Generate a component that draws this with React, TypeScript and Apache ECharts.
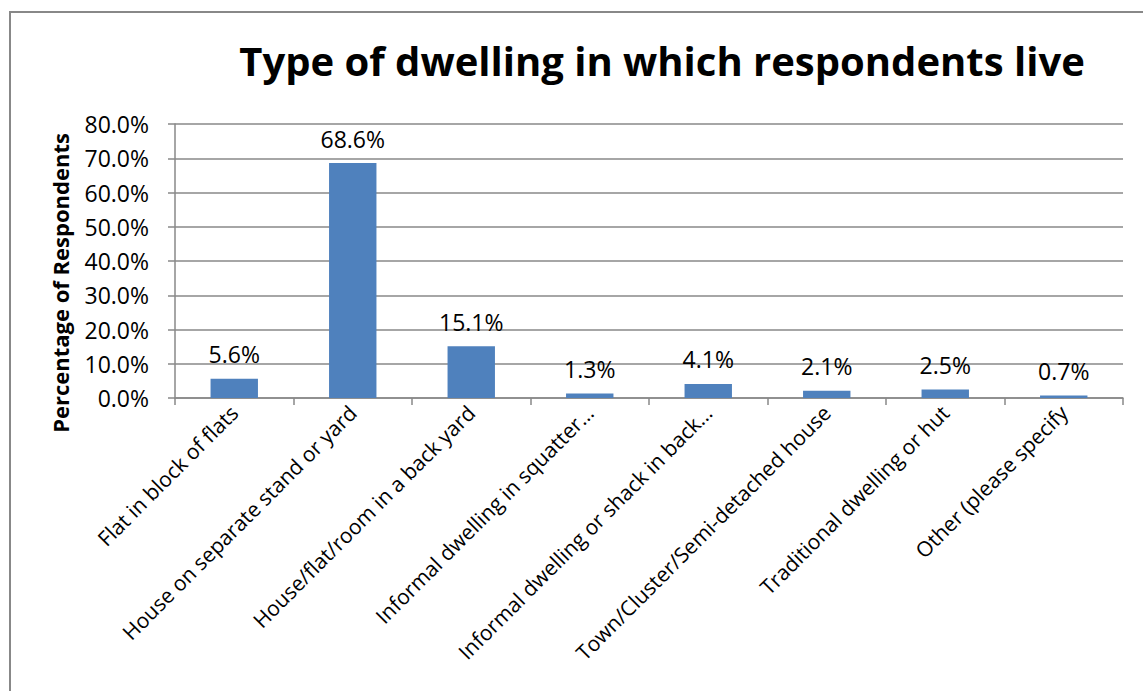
import React, { useEffect, useRef } from "react";
import * as echarts from "echarts";

const categories: string[] = [
  "Flat in block of flats",
  "House on separate stand or yard",
  "House/flat/room in a back yard",
  "Informal dwelling in squatter…",
  "Informal dwelling or shack in back…",
  "Town/Cluster/Semi-detached house",
  "Traditional dwelling or hut",
  "Other (please specify",
];

const percentages: number[] = [5.6, 68.6, 15.1, 1.3, 4.1, 2.1, 2.5, 0.7];

const titleText = "Type of dwelling in which respondents live";
const yAxisTitle = "Percentage of Respondents";

const FONT = "'Open Sans', 'Noto Sans', sans-serif";
const GRAY = "#888888";
const BAR = "#4F81BD";

export default function App() {
  const ref = useRef<HTMLDivElement>(null);

  useEffect(() => {
    if (!ref.current) return;
    const chart = echarts.init(ref.current, undefined, { renderer: "svg" });
    chart.setOption({
      animation: false,
      backgroundColor: "#ffffff",
      textStyle: { fontFamily: FONT },
      graphic: [
        {
          type: "rect",
          shape: { x: 10, y: 12, width: 1300, height: 900 },
          style: { fill: "none", stroke: GRAY, lineWidth: 2 },
          silent: true,
        },
        {
          type: "text",
          x: 662,
          y: 60,
          style: {
            text: titleText,
            font: `bold 40px ${FONT}`,
            fill: "#000",
            align: "center",
            verticalAlign: "middle",
          },
        },
        {
          type: "text",
          x: 60,
          y: 283,
          rotation: Math.PI / 2,
          style: {
            text: yAxisTitle,
            font: `bold 22px ${FONT}`,
            fill: "#000",
            align: "center",
            verticalAlign: "middle",
          },
        },
      ],
      grid: { left: 175, right: 20, top: 124, bottom: 293, containLabel: false },
      xAxis: {
        type: "category",
        data: categories,
        axisLine: { show: true, lineStyle: { color: GRAY, width: 1.5 } },
        axisTick: { show: true, length: 7, lineStyle: { color: GRAY, width: 1.5 } },
        axisLabel: {
          interval: 0,
          rotate: 45,
          margin: 11,
          color: "#000",
          fontSize: 21,
          fontFamily: FONT,
        },
      },
      yAxis: {
        type: "value",
        min: 0,
        max: 80,
        interval: 10,
        axisLine: { show: true, lineStyle: { color: GRAY, width: 1.5 } },
        axisTick: { show: true, length: 7, lineStyle: { color: GRAY, width: 1.5 } },
        splitLine: { show: true, lineStyle: { color: GRAY, width: 1.5 } },
        axisLabel: {
          margin: 26,
          color: "#000",
          fontSize: 23,
          fontFamily: FONT,
          formatter: (v: number) => v.toFixed(1) + "%",
        },
      },
      series: [
        {
          type: "bar",
          data: percentages,
          barCategoryGap: "60%",
          itemStyle: { color: BAR },
          label: {
            show: true,
            position: "top",
            distance: 13,
            color: "#000",
            fontSize: 23,
            fontFamily: FONT,
            formatter: (p: any) => Number(p.value).toFixed(1) + "%",
          },
        },
      ],
    });
    return () => chart.dispose();
  }, []);

  return (
    <div
      ref={ref}
      style={{ position: "fixed", left: 0, top: 0, width: 1143, height: 691, background: "#fff" }}
    />
  );
}
